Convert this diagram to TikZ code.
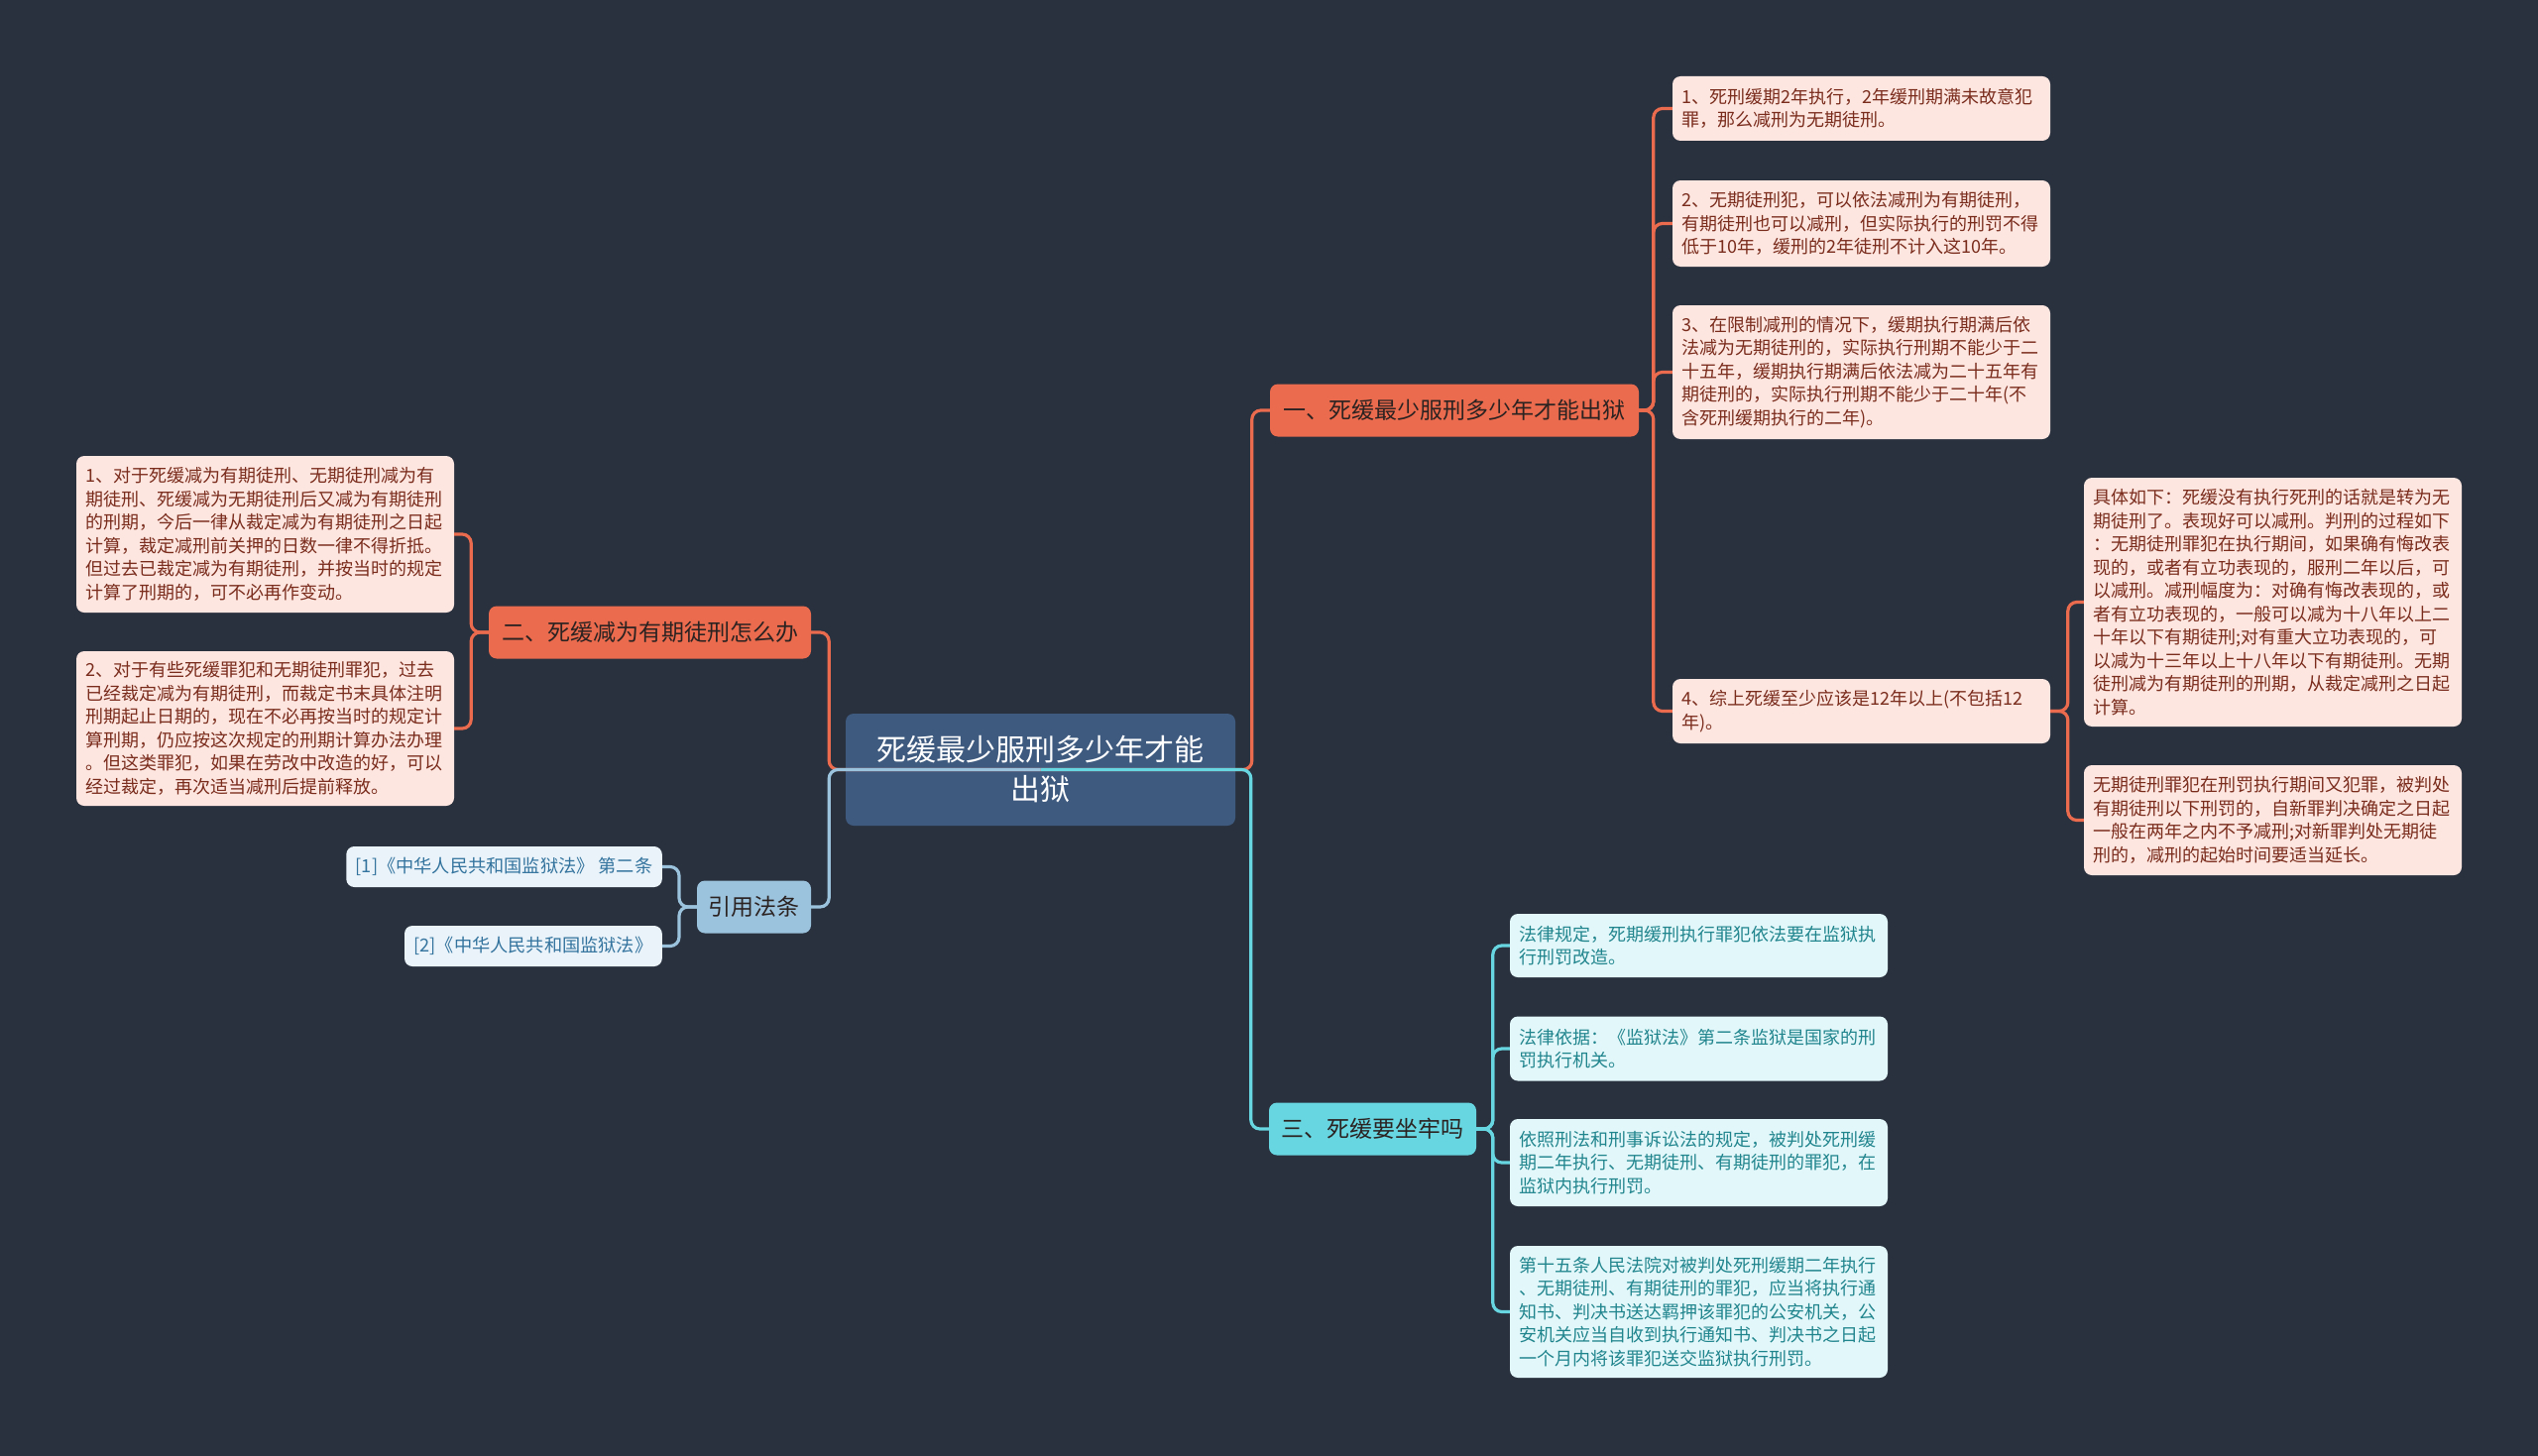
\documentclass[tikz,border=0pt]{standalone}
\usepackage{fontspec}
\setmainfont{Noto Sans CJK SC}
\definecolor{bg}{HTML}{29313F}
\definecolor{org}{HTML}{EA6B4D}
\definecolor{peach}{HTML}{FDE6DF}
\definecolor{peachtxt}{HTML}{7A2C1D}
\definecolor{cyanb}{HTML}{67D6E0}
\definecolor{cyanl}{HTML}{E2F7F9}
\definecolor{cyantxt}{HTML}{21858E}
\definecolor{lblue}{HTML}{9CC3DD}
\definecolor{lbluel}{HTML}{EAF3F9}
\definecolor{lbluetxt}{HTML}{33739E}
\definecolor{centerc}{HTML}{3E5A7F}
\definecolor{dtxt}{HTML}{2B2222}
\tikzset{
  box/.style={rounded corners=8pt, inner sep=0pt},
  leaf/.style={box, align=left, text width=362pt, minimum width=381pt, font=\fontsize{18}{23.5}\selectfont},
  peachleaf/.style={leaf, fill=peach, text=peachtxt},
  cyanleaf/.style={leaf, fill=cyanl, text=cyantxt},
  citeleaf/.style={box, fill=lbluel, text=lbluetxt, inner xsep=9.5pt, minimum height=41pt, anchor=east, font=\fontsize{18.2}{22}\selectfont},
  branch/.style={box, minimum height=53pt, font=\fontsize{23}{28}\selectfont, text=dtxt},
  centerbox/.style={box, fill=centerc, text=white, align=center, minimum width=393pt, minimum height=113pt, font=\fontsize{30}{40}\selectfont},
  conn/.style={line width=3.2pt, rounded corners=9pt},
}
\begin{document}
\begin{tikzpicture}[x=1pt,y=-1pt]
\fill[bg] (0,0) rectangle (2560,1469);
\useasboundingbox (0,0) rectangle (2560,1469);

% nodes
\node[centerbox] (C) at (1049.5,776.5) {死缓最少服刑多少年才能\\出狱};
\node[branch, fill=org, minimum width=372pt] (B1) at (1467,414) {一、死缓最少服刑多少年才能出狱};
\node[branch, fill=org, minimum width=325pt] (B2) at (655.5,638) {二、死缓减为有期徒刑怎么办};
\node[branch, fill=lblue, minimum width=115pt] (B3) at (760.5,915) {引用法条};
\node[branch, fill=cyanb, minimum width=209pt] (B4) at (1384.5,1139) {三、死缓要坐牢吗};

\node[peachleaf, minimum height=65pt] (R1) at (1877.5,109.5) {1、死刑缓期2年执行，2年缓刑期满未故意犯\\罪，那么减刑为无期徒刑。};
\node[peachleaf, minimum height=87pt] (R2) at (1877.5,225.5) {2、无期徒刑犯，可以依法减刑为有期徒刑，\\有期徒刑也可以减刑，但实际执行的刑罚不得\\低于10年，缓刑的2年徒刑不计入这10年。};
\node[peachleaf, minimum height=135pt] (R3) at (1877.5,375.5) {3、在限制减刑的情况下，缓期执行期满后依\\法减为无期徒刑的，实际执行刑期不能少于二\\十五年，缓期执行期满后依法减为二十五年有\\期徒刑的，实际执行刑期不能少于二十年(不\\含死刑缓期执行的二年)。};
\node[peachleaf, minimum height=65pt] (R4) at (1877.5,717.5) {4、综上死缓至少应该是12年以上(不包括12\\年)。};
\node[peachleaf, minimum height=251pt] (RA) at (2292.5,607.5) {具体如下：死缓没有执行死刑的话就是转为无\\期徒刑了。表现好可以减刑。判刑的过程如下\\：无期徒刑罪犯在执行期间，如果确有悔改表\\现的，或者有立功表现的，服刑二年以后，可\\以减刑。减刑幅度为：对确有悔改表现的，或\\者有立功表现的，一般可以减为十八年以上二\\十年以下有期徒刑;对有重大立功表现的，可\\以减为十三年以上十八年以下有期徒刑。无期\\徒刑减为有期徒刑的刑期，从裁定减刑之日起\\计算。};
\node[peachleaf, minimum height=111pt] (RB) at (2292.5,827.5) {无期徒刑罪犯在刑罚执行期间又犯罪，被判处\\有期徒刑以下刑罚的，自新罪判决确定之日起\\一般在两年之内不予减刑;对新罪判处无期徒\\刑的，减刑的起始时间要适当延长。};

\node[peachleaf, minimum height=158pt] (L1) at (267.5,539) {1、对于死缓减为有期徒刑、无期徒刑减为有\\期徒刑、死缓减为无期徒刑后又减为有期徒刑\\的刑期，今后一律从裁定减为有期徒刑之日起\\计算，裁定减刑前关押的日数一律不得折抵。\\但过去已裁定减为有期徒刑，并按当时的规定\\计算了刑期的，可不必再作变动。};
\node[peachleaf, minimum height=156pt] (L2) at (267.5,735) {2、对于有些死缓罪犯和无期徒刑罪犯，过去\\已经裁定减为有期徒刑，而裁定书末具体注明\\刑期起止日期的，现在不必再按当时的规定计\\算刑期，仍应按这次规定的刑期计算办法办理\\。但这类罪犯，如果在劳改中改造的好，可以\\经过裁定，再次适当减刑后提前释放。};

\node[citeleaf] (K1) at (668,874.5) {[1]《中华人民共和国监狱法》 第二条};
\node[citeleaf] (K2) at (668,954.5) {[2]《中华人民共和国监狱法》};

\node[cyanleaf, minimum height=64pt] (T1) at (1713.5,954) {法律规定，死期缓刑执行罪犯依法要在监狱执\\行刑罚改造。};
\node[cyanleaf, minimum height=65pt] (T2) at (1713.5,1058) {法律依据：《监狱法》第二条监狱是国家的刑\\罚执行机关。};
\node[cyanleaf, minimum height=88pt] (T3) at (1713.5,1173) {依照刑法和刑事诉讼法的规定，被判处死刑缓\\期二年执行、无期徒刑、有期徒刑的罪犯，在\\监狱内执行刑罚。};
\node[cyanleaf, minimum height=133pt] (T4) at (1713.5,1323.5) {第十五条人民法院对被判处死刑缓期二年执行\\、无期徒刑、有期徒刑的罪犯，应当将执行通\\知书、判决书送达羁押该罪犯的公安机关，公\\安机关应当自收到执行通知书、判决书之日起\\一个月内将该罪犯送交监狱执行刑罚。};

% connectors from centre
\draw[conn, org] (C.center) -| ([xshift=-18pt]B1.west) -- (B1.west);
\draw[conn, org] (C.center) -| ([xshift=18pt]B2.east) -- (B2.east);
\draw[conn, cyanb] (C.center) -| ([xshift=-18pt]B4.west) -- (B4.west);
\draw[conn, lblue] (C.center) -| ([xshift=18pt]B3.east) -- (B3.east);

% branch 1 children
\foreach \n in {R1,R2,R3,R4}
  \draw[conn, org] (B1.east) -| ([xshift=-19pt]\n.west) -- (\n.west);
\foreach \n in {RA,RB}
  \draw[conn, org] (R4.east) -| ([xshift=-16pt]\n.west) -- (\n.west);
% branch 2 children
\foreach \n in {L1,L2}
  \draw[conn, org] (B2.west) -| ([xshift=17pt]\n.east) -- (\n.east);
% citations
\draw[conn, lblue] (B3.west) -| ([xshift=17pt]K1.east) -- (K1.east);
\draw[conn, lblue] (B3.west) -| ([xshift=17pt]K2.east) -- (K2.east);
% branch 3 children
\foreach \n in {T1,T2,T3,T4}
  \draw[conn, cyanb] (B4.east) -| ([xshift=-17pt]\n.west) -- (\n.west);
\end{tikzpicture}
\end{document}
